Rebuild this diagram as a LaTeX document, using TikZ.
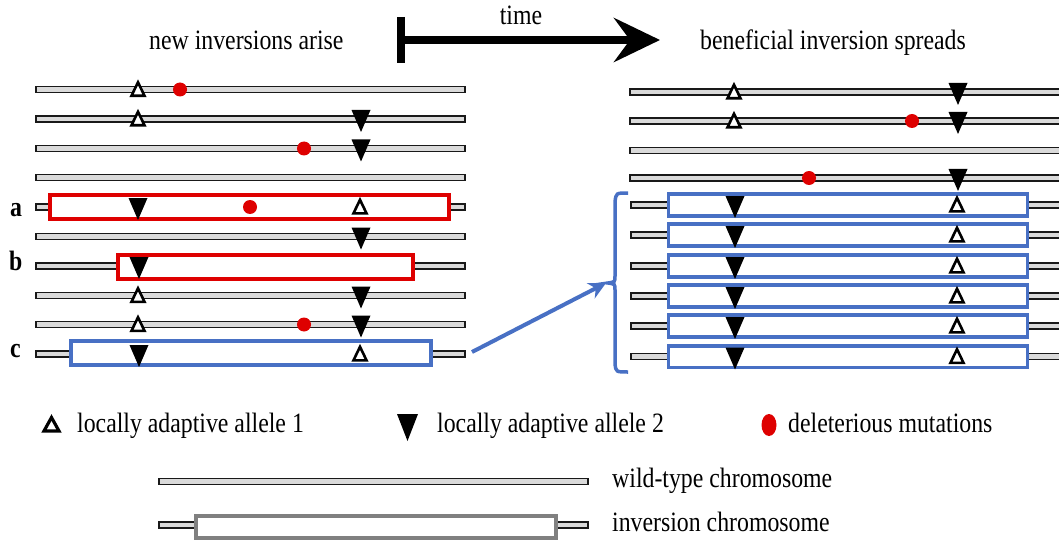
\documentclass[tikz,border=0pt]{standalone}
\usepackage{fontspec}
\setmainfont{Liberation Serif}[FakeStretch=0.85]
\usepackage{tikz}
\usetikzlibrary{arrows.meta, positioning}
\definecolor{invred}{RGB}{222,0,0}
\definecolor{invblue}{RGB}{72,112,196}
\definecolor{chromgray}{RGB}{218,218,218}
\tikzstyle{chrom} = [draw=black!90, fill=chromgray, line width=1.4pt]
\tikzstyle{redinv} = [draw=invred, fill=white, line width=4pt]
\tikzstyle{blueinv} = [draw=invblue, fill=white, line width=3.6pt]
\tikzstyle{greyinv} = [draw=black!50, fill=white, line width=4pt]
\tikzstyle{txt} = [inner sep=0pt, font={\fontsize{28}{30}\selectfont}]
\tikzstyle{letter} = [txt, font={\fontsize{28}{30}\selectfont\bfseries}]
\tikzstyle{arrow} = [invblue, line width=4pt, -{Stealth[length=17pt, width=17pt]}]
% chromosome bar: x from, x to, y
\newcommand{\chromo}[3]{\draw[chrom] (#1,#3-3) rectangle (#2,#3+3);}
% allele 1 (open), allele 2 (filled), deleterious mutation
\newcommand{\upallele}[2]{\draw[line width=2.6pt, fill=white] (#1-6.5,#2+6.3) -- (#1+6.5,#2+6.3) -- (#1,#2-7.2) -- cycle;}
\newcommand{\downallele}[2]{\fill (#1-9.5,#2-9) -- (#1+9.5,#2-9) -- (#1,#2+13) -- cycle;}
\newcommand{\delmut}[2]{\fill[invred] (#1,#2) circle (7pt);}

\begin{document}
\begin{tikzpicture}[x=1pt, y=-1pt]
    \useasboundingbox (0,0) rectangle (1059,540);

    \node[txt, anchor=base west] (arise) at (149,49.5) {new inversions arise};
    \node[txt, anchor=base west] (spreads) at (700,49.5) {beneficial inversion spreads};
    \node[txt, anchor=base] (time) at (521,25) {time};

    % time axis
    \draw[line width=8pt] (401,17) -- (401,63);
    \draw[line width=7.5pt, -{Stealth[length=46pt, width=44pt, inset=16pt]}] (401,40) -- (660,40);

    % left: new inversions arise
    \chromo{36}{465}{89.5}
    \upallele{138}{89.5} \delmut{180}{89.5}
    \chromo{36}{465}{119}
    \upallele{138}{119} \downallele{361}{119}
    \chromo{36}{465}{148.5}
    \delmut{304}{148.5} \downallele{361}{148.5}
    \chromo{36}{465}{177.5}
    \chromo{36}{465}{207}
    \draw[redinv] (49.5,195.3) rectangle (449,218.7);
    \downallele{138}{207} \delmut{250}{207} \upallele{360}{207}
    \chromo{36}{465}{236.5}
    \downallele{361}{236.5}
    \chromo{36}{465}{266}
    \draw[redinv] (117.5,255) rectangle (412.5,279);
    \downallele{139}{266}
    \chromo{36}{465}{295.5}
    \upallele{138}{295.5} \downallele{361}{295.5}
    \chromo{36}{465}{324.5}
    \upallele{138}{324.5} \delmut{304}{324.5} \downallele{361}{324.5}
    \chromo{36}{465}{354}
    \draw[blueinv] (71,341.2) rectangle (431,364.8);
    \downallele{139}{354} \upallele{360}{354}

    \node[letter, anchor=base west] (la) at (10,216) {a};
    \node[letter, anchor=base west] (lb) at (9,270) {b};
    \node[letter, anchor=base west] (lc) at (10,357) {c};

    % right: beneficial inversion spreads
    \chromo{630}{1070}{92}
    \upallele{734}{92} \downallele{958}{92}
    \chromo{630}{1070}{121}
    \upallele{734}{121} \delmut{912}{121} \downallele{958}{121}
    \chromo{630}{1070}{150.5}
    \chromo{630}{1070}{178}
    \delmut{809}{178} \downallele{958}{178}
    \foreach \y in {205,235,266,296,326,356.5} {
        \chromo{631}{1070}{\y}
        \draw[blueinv] (668.5,\y-10.8) rectangle (1027.5,\y+10.8);
        \downallele{735}{\y} \upallele{957}{\y}
    }

    % bracket round the spread inversions
    \draw[invblue, line width=3.5pt] (628,193) .. controls (616,193) .. (615,202) -- (615,276)
        .. controls (615,282) .. (608,283) .. controls (615,284) .. (615,290) -- (615,364)
        .. controls (616,372) .. (628,372);
    \coordinate (cend) at (472,352);
    \coordinate (brace) at (606,283);
    \draw[arrow] (cend) -- (brace);

    % legend
    \draw[line width=3.2pt, fill=white] (44,431) -- (59,431) -- (51.5,417.5) -- cycle;
    \node[txt, anchor=base west] (leg1) at (77,432.5) {locally adaptive allele 1};
    \fill (397,414) -- (418,414) -- (407.5,441) -- cycle;
    \node[txt, anchor=base west] (leg2) at (437,432.5) {locally adaptive allele 2};
    \fill[invred] (769,425) ellipse (7.5pt and 11pt);
    \node[txt, anchor=base west] (leg3) at (788,432.5) {deleterious mutations};

    \chromo{159}{588}{481.5}
    \node[txt, anchor=base west] (wild) at (612,487) {wild-type chromosome};
    \chromo{159}{588}{525}
    \draw[greyinv] (196,516) rectangle (556,537.5);
    \node[txt, anchor=base west] (inv) at (612,531.5) {inversion chromosome};
\end{tikzpicture}
\end{document}
